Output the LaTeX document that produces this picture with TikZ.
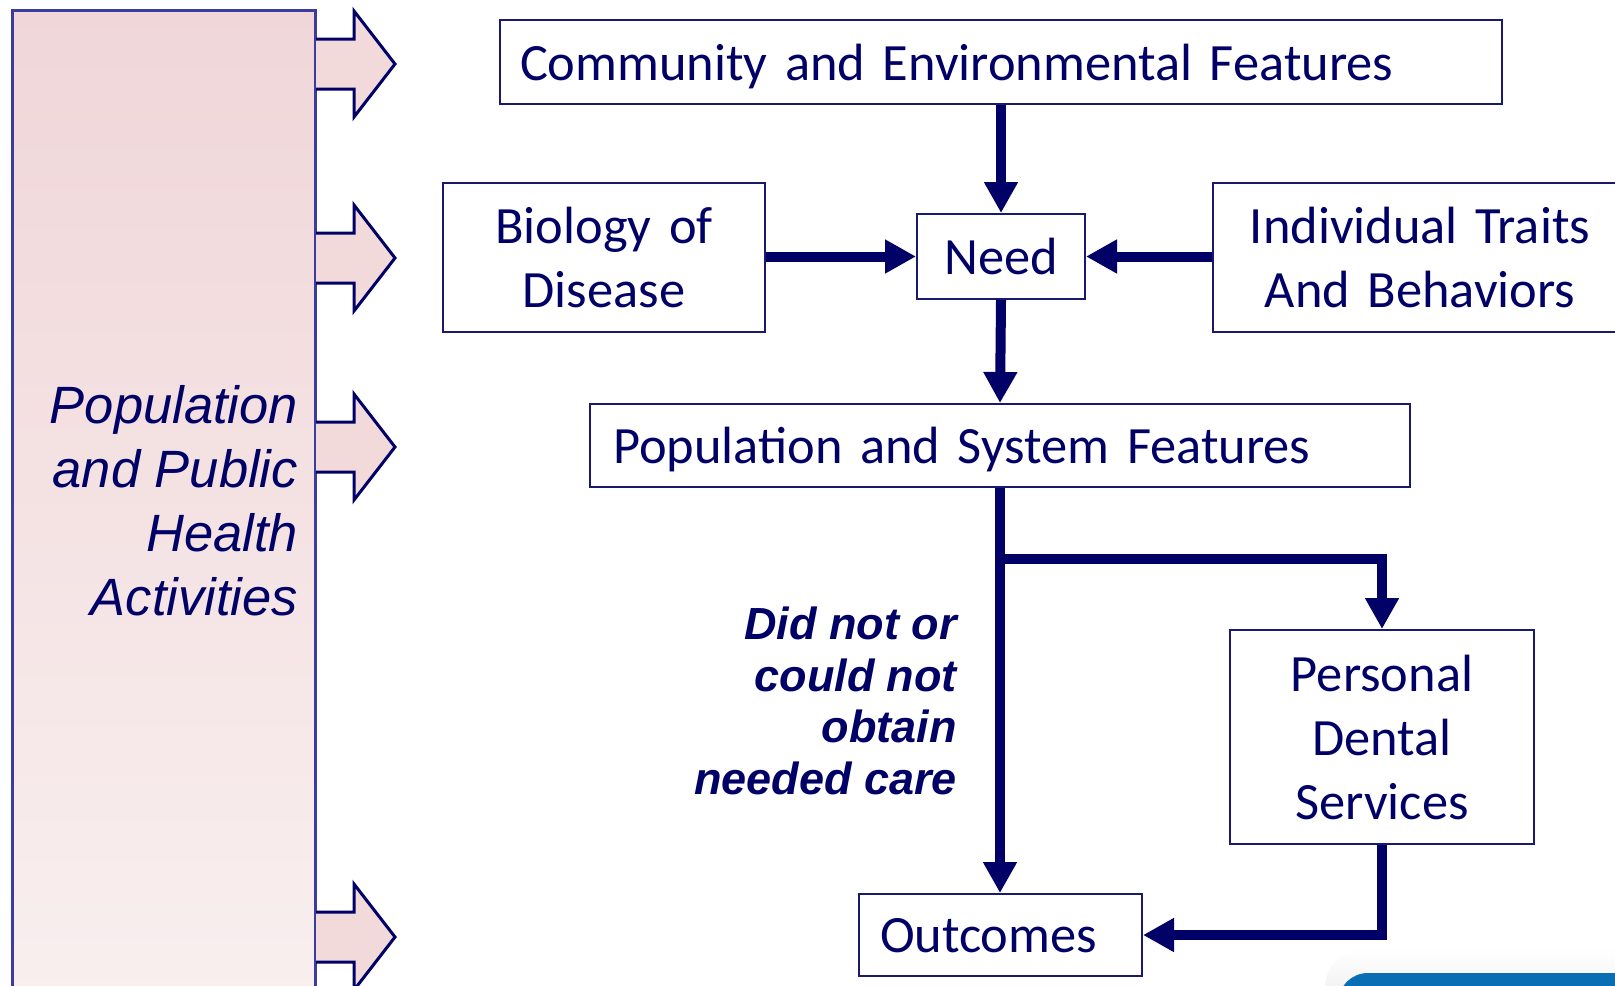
\documentclass[tikz,border=0pt]{standalone}
\usepackage{fontspec}
\setmainfont{Carlito}
\newfontfamily\arialfont{Liberation Sans}
\usetikzlibrary{arrows.meta}
\definecolor{navy}{RGB}{0,0,102}
\definecolor{boxline}{RGB}{25,25,110}
\definecolor{sideline}{RGB}{60,60,160}
\definecolor{pinktop}{RGB}{240,214,216}
\definecolor{pinkbot}{RGB}{249,239,239}
\definecolor{arrowpink}{RGB}{242,218,218}
\definecolor{slideblue}{RGB}{10,110,180}
\newcommand\boxfont{\fontsize{26.2}{32}\selectfont\spaceskip=8.8pt\relax}
\begin{document}
\begin{tikzpicture}[x=0.5pt,y=-0.5pt]
  \tikzstyle{box}=[draw=boxline,line width=1pt,text=navy,font=\boxfont,align=center,inner sep=0pt]
  \tikzstyle{conn}=[draw=navy,line width=5pt,-{Triangle[length=15.5pt,width=16pt]}]
  \tikzstyle{feed}=[fill=arrowpink,draw=navy,line width=1.5pt,line join=miter]
  \path[use as bounding box,clip] (0,0) rectangle (1615,985);
  \fill[white] (0,0) rectangle (1615,985);

  % side panel
  \shadedraw[top color=pinktop,bottom color=pinkbot,draw=sideline,line width=1.5pt] (12,10) rectangle (315,1000);
  \node[text=navy,font=\arialfont\itshape\fontsize{26.25}{32}\selectfont,align=right,anchor=east] (side) at (305,501) {Population\\and Public\\Health\\Activities};
  \foreach \y in {64,258,447,937}
    \draw[feed] (316,\y-25) -- (354,\y-25) -- (354,\y-53) -- (395,\y) -- (354,\y+53) -- (354,\y+25) -- (316,\y+25);

  % boxes
  \node[box,minimum width=501pt,minimum height=42pt] (comm) at (1001,62) {\raisebox{0pt}[\height][0pt]{\makebox[481pt][l]{Community and Environmental Features}}};
  \node[box,minimum width=161pt,minimum height=74.5pt] (bio) at (604,257.5) {Biology of\\Disease};
  \node[box,minimum width=84pt,minimum height=42.5pt] (need) at (1001,256.5) {Need};
  \node[box,minimum width=207pt,minimum height=74.5pt] (indiv) at (1420,257.5) {Individual Traits\\And Behaviors};
  \node[box,minimum width=410pt,minimum height=41.5pt] (pop) at (1000,445.5) {\raisebox{0pt}[\height][0pt]{\makebox[387pt][l]{Population and System Features}}};
  \node[box,minimum width=152pt,minimum height=107pt] (pers) at (1382,737) {Personal\\Dental\\Services};
  \node[box,minimum width=141.5pt,minimum height=41pt] (out) at (1000.5,935) {\raisebox{0pt}[\height][0pt]{\makebox[120.5pt][l]{Outcomes}}};
  \node[text=navy,font=\arialfont\bfseries\itshape\fontsize{22.5}{25.75}\selectfont,align=right,anchor=east] (gap) at (964,701) {Did not or\\could not\\obtain\\needed care};

  % connectors
  \draw[conn] (comm.south) -- (need.north);
  \draw[conn] (bio.east |- need.west) -- (need.west);
  \draw[conn] (indiv.west |- need.east) -- (need.east);
  \draw[conn] (need.south) -- (pop.north);
  \coordinate (split) at (1000,559);
  \draw[conn] (pop.south) -- (pop.south |- out.north);
  \draw[conn] (split) -| (pers.north);
  \draw[conn] (pers.south) |- (out.east);

  % slide corner
  \shade[top color=white,bottom color=gray!35,rounded corners=20pt] (1325,948) rectangle (1700,1100);
  \fill[slideblue,rounded corners=15pt] (1338,973) rectangle (1700,1100);
\end{tikzpicture}
\end{document}
